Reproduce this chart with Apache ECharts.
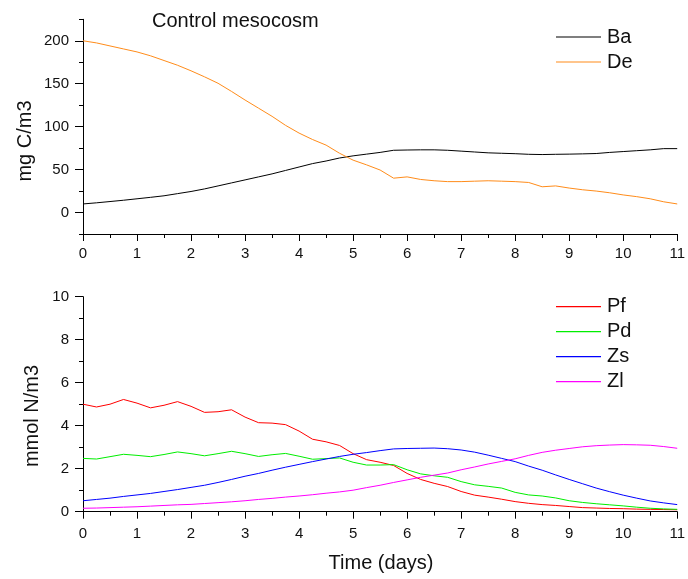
<!DOCTYPE html>
<html>
<head>
<meta charset="utf-8">
<script src="https://cdn.jsdelivr.net/npm/echarts@6/dist/echarts.min.js"></script>
<style>
  html, body { margin: 0; padding: 0; background: #fff; }
  #chart { width: 688px; height: 579px; }
</style>
</head>
<body>
<div id="chart"></div>
<script>
// Sampling times (days)
const days = [0, 0.25, 0.5, 0.75, 1, 1.25, 1.5, 1.75, 2, 2.25, 2.5, 2.75, 3, 3.25, 3.5, 3.75,
  4, 4.25, 4.5, 4.75, 5, 5.25, 5.5, 5.75, 6, 6.25, 6.5, 6.75, 7, 7.25, 7.5, 7.75,
  8, 8.25, 8.5, 8.75, 9, 9.25, 9.5, 9.75, 10, 10.25, 10.5, 10.75, 11];

// Carbon pools (mg C/m3)
const Ba = [10, 11.3, 12.8, 14.3, 16, 17.7, 19.5, 22, 24.5, 27.5, 31, 34.5, 38, 41.5, 45, 49,
  53, 57, 60, 63.5, 66, 68, 70, 72.5, 72.8, 73, 73, 72.5, 71.5, 70.5, 69.5, 69,
  68.5, 67.8, 67.5, 67.8, 68, 68.3, 68.7, 70, 71, 72, 73, 74.4, 74.4];
const De = [200, 197.5, 194, 190.5, 187, 182.5, 177, 171.5, 165, 158, 150.5, 141, 131, 121.5, 112, 101.5,
  92.5, 85, 78.5, 69, 61, 55.5, 49.5, 40, 41.5, 38.5, 37, 36, 36, 36.5, 37, 36.5,
  36, 35, 30, 31, 28.5, 26.5, 25, 23, 20.5, 18.5, 16, 12.5, 10];

// Nitrogen pools (mmol N/m3)
const Pf = [5.0, 4.87, 5.0, 5.22, 5.05, 4.83, 4.95, 5.12, 4.9, 4.62, 4.65, 4.74, 4.4, 4.14, 4.12, 4.05,
  3.75, 3.37, 3.25, 3.08, 2.7, 2.42, 2.3, 2.15, 1.78, 1.5, 1.32, 1.17, 0.94, 0.77, 0.68, 0.58,
  0.47, 0.39, 0.33, 0.29, 0.24, 0.19, 0.17, 0.15, 0.14, 0.12, 0.11, 0.1, 0.09];
const Pd = [2.48, 2.45, 2.56, 2.67, 2.62, 2.56, 2.66, 2.78, 2.7, 2.6, 2.7, 2.81, 2.7, 2.57, 2.65, 2.71,
  2.58, 2.44, 2.47, 2.5, 2.3, 2.17, 2.17, 2.19, 1.95, 1.76, 1.67, 1.6, 1.4, 1.25, 1.18, 1.1,
  0.9, 0.78, 0.73, 0.64, 0.51, 0.43, 0.37, 0.32, 0.27, 0.21, 0.16, 0.13, 0.11];
const Zs = [0.51, 0.57, 0.63, 0.71, 0.78, 0.85, 0.94, 1.03, 1.13, 1.23, 1.36, 1.5, 1.65, 1.78, 1.93, 2.07,
  2.2, 2.33, 2.45, 2.57, 2.67, 2.75, 2.84, 2.92, 2.94, 2.95, 2.96, 2.93, 2.87, 2.77, 2.63, 2.48,
  2.33, 2.12, 1.93, 1.71, 1.5, 1.3, 1.1, 0.93, 0.77, 0.63, 0.5, 0.41, 0.33];
const Zl = [0.16, 0.17, 0.19, 0.21, 0.23, 0.26, 0.29, 0.32, 0.34, 0.38, 0.42, 0.46, 0.51, 0.57, 0.62, 0.68,
  0.73, 0.79, 0.86, 0.92, 1.0, 1.12, 1.23, 1.36, 1.48, 1.6, 1.7, 1.8, 1.95, 2.08, 2.22, 2.34,
  2.46, 2.62, 2.76, 2.86, 2.94, 3.02, 3.07, 3.1, 3.12, 3.11, 3.09, 3.03, 2.95];

// Axis tick values
const carbonMajorTicks = [0, 50, 100, 150, 200];
const carbonMinorTicks = [-25, 25, 75, 125, 175, 225];

const FONT = '"Liberation Sans", Arial, Helvetica, sans-serif';
const INK = '#111';

const pairs = arr => days.map((d, i) => [d, arr[i]]);

function xAxisFor(gridIndex, labelMargin) {
  return {
    type: 'value', gridIndex, min: 0, max: 11, interval: 1,
    axisLine: { show: true, onZero: false, lineStyle: { color: '#000', width: 1 } },
    axisTick: { show: true, length: 7, lineStyle: { color: '#000' } },
    minorTick: { show: true, splitNumber: 2, length: 4, lineStyle: { color: '#000' } },
    axisLabel: { color: INK, fontSize: 15, fontFamily: FONT, margin: labelMargin },
    splitLine: { show: false }, minorSplitLine: { show: false }
  };
}

function lineSeries(name, arr, color, xi, yi) {
  return {
    name, type: 'line', xAxisIndex: xi, yAxisIndex: yi,
    data: pairs(arr), symbol: 'none', smooth: false,
    lineStyle: { color, width: 1 }, itemStyle: { color },
    emphasis: { disabled: true }, animation: false
  };
}

// Legend keys are plain horizontal strokes in each series colour
function legendFor(names, top) {
  return {
    orient: 'vertical', left: 556, top, padding: 0,
    icon: 'rect',
    itemWidth: 45, itemHeight: 1.2, itemGap: 5,
    textStyle: { fontSize: 20, fontFamily: FONT, color: INK, lineHeight: 20, padding: [0, 0, 0, 1] },
    data: names
  };
}

const chart = echarts.init(document.getElementById('chart'), null, { renderer: 'canvas' });

chart.setOption({
  animation: false,
  backgroundColor: '#fff',
  grid: [
    { left: 83, right: 9, top: 19.3, height: 214.7 },
    { left: 83, right: 9, top: 296.7, height: 215 }
  ],
  xAxis: [xAxisFor(0, 12), xAxisFor(1, 15)],
  yAxis: [
    {
      type: 'value', gridIndex: 0, min: -25, max: 225, interval: 25,
      axisLine: { show: true, lineStyle: { color: '#000', width: 1 } },
      axisTick: { show: true, length: 4, customValues: carbonMinorTicks, lineStyle: { color: '#000' } },
      axisLabel: { color: INK, fontSize: 15, fontFamily: FONT, margin: 14, customValues: carbonMajorTicks },
      splitLine: { show: false }
    },
    {
      type: 'value', gridIndex: 0, min: -25, max: 225, interval: 25, position: 'left', offset: 0,
      axisLine: { show: false },
      axisTick: { show: true, length: 8, customValues: carbonMajorTicks, lineStyle: { color: '#000' } },
      axisLabel: { show: false },
      splitLine: { show: false }
    },
    {
      type: 'value', gridIndex: 1, min: 0, max: 10, interval: 2,
      axisLine: { show: true, lineStyle: { color: '#000', width: 1 } },
      axisTick: { show: true, length: 8, lineStyle: { color: '#000' } },
      minorTick: { show: true, splitNumber: 2, length: 4, lineStyle: { color: '#000' } },
      axisLabel: { color: INK, fontSize: 15, fontFamily: FONT, margin: 14 },
      splitLine: { show: false }, minorSplitLine: { show: false }
    }
  ],
  legend: [
    legendFor(['Ba', 'De'], 27),
    legendFor(['Pf', 'Pd', 'Zs', 'Zl'], 296.7)
  ],
  series: [
    lineSeries('Ba', Ba, '#000000', 0, 0),
    lineSeries('De', De, '#ff8c1a', 0, 0),
    lineSeries('Pf', Pf, '#ff0000', 1, 2),
    lineSeries('Pd', Pd, '#00ee00', 1, 2),
    lineSeries('Zs', Zs, '#0000ff', 1, 2),
    lineSeries('Zl', Zl, '#ff00ff', 1, 2)
  ],
  graphic: [
    {
      type: 'text', x: 152, y: 21,
      style: { text: 'Control mesocosm', fill: INK, font: '20px ' + FONT, textAlign: 'left', textVerticalAlign: 'middle' }
    },
    {
      type: 'text', x: 25, y: 141, rotation: Math.PI / 2,
      style: { text: 'mg C/m3', fill: INK, font: '20px ' + FONT, textAlign: 'center', textVerticalAlign: 'middle' }
    },
    {
      type: 'text', x: 32, y: 416, rotation: Math.PI / 2,
      style: { text: 'mmol N/m3', fill: INK, font: '20px ' + FONT, textAlign: 'center', textVerticalAlign: 'middle' }
    },
    {
      type: 'text', x: 381, y: 563,
      style: { text: 'Time (days)', fill: INK, font: '20px ' + FONT, textAlign: 'center', textVerticalAlign: 'middle' }
    }
  ]
});
</script>
</body>
</html>
